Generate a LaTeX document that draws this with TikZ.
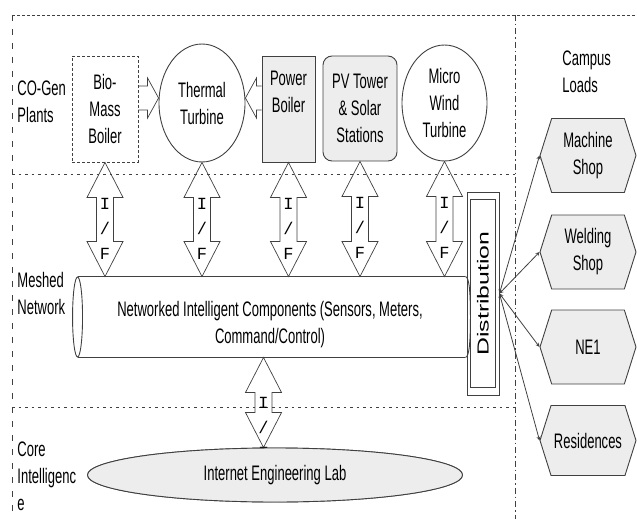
\documentclass[tikz,border=0pt]{standalone}
\usepackage{fontspec}
\setmainfont{Liberation Sans}[FakeStretch=0.62]
\newfontfamily\ifmono{Liberation Mono}
\newfontfamily\distfont{Liberation Sans}[FakeStretch=1.55]
\usetikzlibrary{shapes.geometric, shapes.symbols, calc, positioning}
\definecolor{linegray}{rgb}{0.25,0.25,0.25}
\definecolor{boxgray}{rgb}{0.93,0.93,0.93}

\newcommand{\sidearrow}[2]{%
  \draw[hollowarrow] ($(#1)+(0,-12)$) -- ($(#2)!11pt!(#1)+(0,-12)$) -- ($(#2)!11pt!(#1)+(0,-20)$) -- (#2)
    -- ($(#2)!11pt!(#1)+(0,20)$) -- ($(#2)!11pt!(#1)+(0,12)$) -- ($(#1)+(0,12)$);}
\newcommand{\ifarrow}[4]{%
  \draw[hollowarrow] let \p1=(#1), \p2=(#2) in
    (\x1,\y1) -- (\x1+18pt,\y1-35pt) -- (\x1+8.5pt,\y1-35pt) -- (\x1+8.5pt,\y2+35pt) -- (\x1+18pt,\y2+35pt)
    -- (\x1,\y2) -- (\x1-18pt,\y2+35pt) -- (\x1-8.5pt,\y2+35pt) -- (\x1-8.5pt,\y1-35pt) -- (\x1-18pt,\y1-35pt) -- cycle;
  \node[iflabel] (#3) at ($(#1)!#4!(#2)$) {I\\/\\F};}

\begin{document}
\begin{tikzpicture}[x=1pt, y=-1pt,
    every path/.style={linegray, line width=0.9pt},
    every node/.style={font=\fontsize{21}{27}\selectfont, text=black, align=center, inner sep=1pt},
    plant/.style={draw, minimum width=66, minimum height=106},
    load/.style={draw, fill=boxgray, signal, signal to=west and east, signal pointer angle=145, minimum width=96, minimum height=74},
    hollowarrow/.style={line width=0.7pt},
    iflabel/.style={font=\ifmono\fontsize{17}{25}\selectfont},
    zone/.style={line width=0.8pt, dash pattern=on 2.5pt off 4pt}]
    \useasboundingbox (0,0) rectangle (637,519);
    \draw[line width=0.8pt, dash pattern=on 3pt off 2pt] (12,15) -- (637,15);
    \draw[line width=0.8pt, dash pattern=on 6pt off 8pt] (12,15) -- (12,519);
    \draw[line width=0.8pt, dash pattern=on 6pt off 3pt on 1.5pt off 3pt] (515,15) -- (515,519);
    \draw[zone] (12,174) -- (515,174);
    \draw[zone] (12,407) -- (515,407);

    \node[anchor=west, align=left] (cogen) at (16,102) {CO-Gen\\Plants};
    \node[anchor=west, align=left] (meshed) at (16,293) {Meshed\\Network};
    \node[anchor=west, align=left] (core) at (16,476) {Core\\Intelligenc\\e};
    \node[anchor=west, align=left] (campus) at (561,72) {Campus\\Loads};

    \node[plant, densely dashed] (bio) at (105,109) {Bio-\\Mass\\Boiler};
    \node[draw, ellipse, minimum width=86, minimum height=118, inner sep=0pt] (thermal) at (202,103) {Thermal\\Turbine};
    \node[plant, fill=boxgray, minimum width=53] (power) at (288.5,109) {};
    \node (powertext) at (288.5,92) {Power\\Boiler};
    \node[plant, fill=boxgray, rounded corners=9pt, minimum width=74, minimum height=105] (pv) at (360,108.5) {PV Tower\\\& Solar\\Stations};
    \node[draw, ellipse, minimum width=85, minimum height=116, inner sep=0pt] (wind) at (444.5,103) {Micro\\Wind\\Turbine};

    \coordinate (bioout) at ($(bio.east)+(0,-11)$);
    \coordinate (thermleft) at ($(thermal.west)+(0,-5)$);
    \coordinate (powerout) at ($(power.west)+(0,-11)$);
    \coordinate (thermright) at ($(thermal.east)+(0,-5)$);
    \sidearrow{bioout}{thermleft}
    \sidearrow{powerout}{thermright}

    \node[minimum width=387, minimum height=80] (net) at (271.5,317) {};
    \draw (net.north east) -- (net.north west) (net.south west) -- (net.south east);
    \draw (net.west) ellipse [x radius=5, y radius=40];
    \draw (net.north east) .. controls +(4,0) and +(0,-22) .. ($(net.east)+(5,0)$) .. controls +(0,22) and +(4,0) .. (net.south east);
    \node (nettext) at (270,325) {Networked Intelligent Components (Sensors, Meters,\\Command/Control)};

    \ifarrow{bio.south}{bio.south |- net.north}{ifbio}{0.58}
    \ifarrow{thermal.south}{thermal.south |- net.north}{ifthermal}{0.58}
    \ifarrow{power.south}{power.south |- net.north}{ifpower}{0.58}
    \ifarrow{pv.south}{pv.south |- net.north}{ifpv}{0.58}
    \ifarrow{wind.south}{wind.south |- net.north}{ifwind}{0.58}

    \node[draw, minimum width=32, minimum height=203, inner sep=0pt] (dist) at (483,293.5) {};
    \draw ($(dist.north west)+(4,8)$) rectangle ($(dist.south east)+(-4,-8)$);
    \node[rotate=90, font=\distfont\fontsize{16}{16}\selectfont] (disttext) at (dist) {Distribution};

    \node[draw, ellipse, fill=white, minimum width=375, minimum height=54, inner sep=0pt] (lab) at (275,475) {};
    \coordinate (netout) at ($(net.south)+(-8,0)$);
    \coordinate (labin) at (netout |- lab.north);
    \ifarrow{netout}{labin}{iflab}{0.78}
    \node[draw, ellipse, fill=boxgray, minimum width=375, minimum height=54, inner sep=0pt] (labface) at (lab) {Internet Engineering Lab};

    \node[load] (machine) at (588,155.5) {Machine\\Shop};
    \node[load] (welding) at (588,252) {Welding\\Shop};
    \node[load] (ne1) at (588,347) {NE1};
    \node[load, minimum height=70] (res) at (588,440.5) {Residences};

    \draw[<->, >=stealth, line width=0.8pt] (dist.east) -- (machine.west);
    \draw[<->, >=stealth, line width=0.8pt] (dist.east) -- (welding.west);
    \draw[<->, >=stealth, line width=0.8pt] (dist.east) -- (ne1.west);
    \draw[<->, >=stealth, line width=0.8pt] (dist.east) -- (res.west);
\end{tikzpicture}
\end{document}
